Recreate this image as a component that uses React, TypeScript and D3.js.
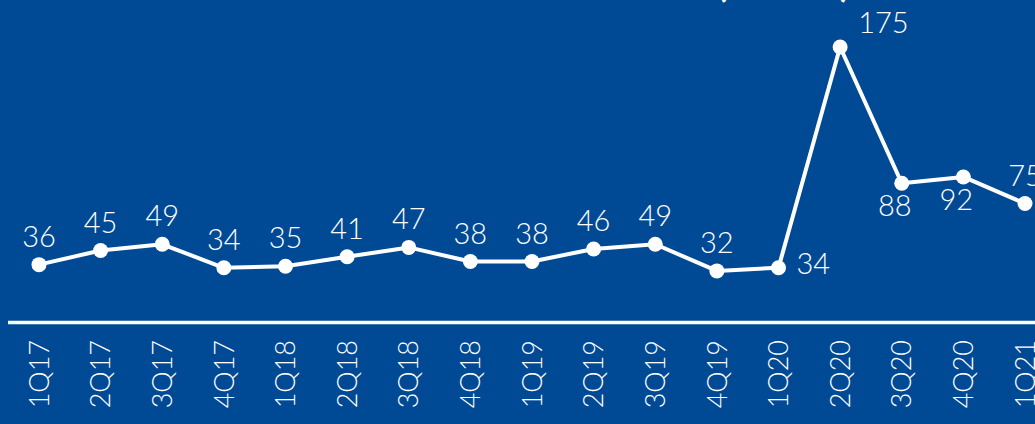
import React from "react";
import * as d3 from "d3";

const quarters = ["1Q17","2Q17","3Q17","4Q17","1Q18","2Q18","3Q18","4Q18","1Q19","2Q19","3Q19","4Q19","1Q20","2Q20","3Q20","4Q20","1Q21"];
const values = [36,45,49,34,35,41,47,38,38,46,49,32,34,175,88,92,75];
// label placement: "above" default, others special
const labelPos = ["above","above","above","above","above","above","above","above","above","above","above","above","right","aboveRight","below","below","above"];

const W = 1035, H = 424;
const BG = "#004A95";
const FONT = "Lato, 'Open Sans', sans-serif";

export default function App() {
  const x = d3.scalePoint<string>().domain(quarters).range([39, 1025]);
  const y = d3.scaleLinear().domain([0, 175]).range([321, 47]);
  const line = d3.line<number>().x((_, i) => x(quarters[i])!).y(d => y(d));

  const labelProps = (i: number) => {
    const px = x(quarters[i])!, py = y(values[i]);
    switch (labelPos[i]) {
      case "right": return { x: px + 18, y: py + 6, anchor: "start" };
      case "aboveRight": return { x: px + 18, y: py - 14, anchor: "start" };
      case "below": return { x: px - 7, y: py + 33, anchor: "middle" };
      default: return { x: px, y: py - 18, anchor: "middle" };
    }
  };

  return (
    <svg width={W} height={H} style={{ position: "absolute", left: 0, top: 0, display: "block" }}>
      <rect x={0} y={0} width={W} height={H} fill={BG} />
      {/* cut-off title brackets */}
      <text x={722} y={-3} fill="#fff" fontFamily={FONT} fontWeight={700} fontSize={36} textAnchor="middle">(</text>
      <text x={845} y={-3} fill="#fff" fontFamily={FONT} fontWeight={700} fontSize={36} textAnchor="middle">)</text>
      <line x1={8} x2={W} y1={y(0) + 1.5} y2={y(0) + 1.5} stroke="#fff" strokeWidth={3.5} />
      <path d={line(values) || ""} fill="none" stroke="#fff" strokeWidth={4} strokeLinejoin="round" />
      {values.map((v, i) => (
        <circle key={quarters[i]} cx={x(quarters[i])} cy={y(v)} r={7.5} fill="#fff" />
      ))}
      {values.map((v, i) => {
        const p = labelProps(i);
        return (
          <text key={"l" + i} x={p.x} y={p.y} textAnchor={p.anchor} fill="#fff" fontFamily={FONT} fontWeight={300} fontSize={29}>{v}</text>
        );
      })}
      {quarters.map(q => (
        <text key={"q" + q} transform={`translate(${x(q)},340) rotate(-90)`} textAnchor="end" dy="0.36em" fill="#fff" fontFamily={FONT} fontWeight={300} fontSize={27}>{q}</text>
      ))}
    </svg>
  );
}
